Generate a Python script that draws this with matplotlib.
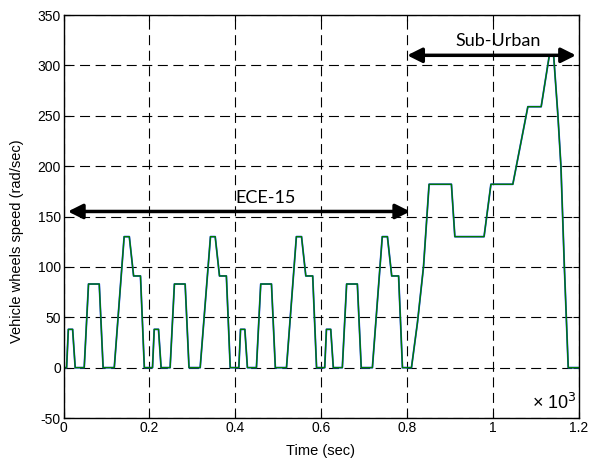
import numpy as np
import matplotlib
matplotlib.use('Agg')
import matplotlib.pyplot as plt

plt.rcParams['axes.unicode_minus'] = False

# drive cycle: time (s) and wheel speed (rad/sec)
ece1_t = [0, 7, 11, 21, 27, 48, 58, 83, 92, 118, 141, 153, 163, 179, 188]
ece1_v = [0, 0, 38, 38, 0, 0, 83, 83, 0, 0, 130, 130, 91, 91, 0]
ece2_t = [207, 211, 221, 227, 248, 258, 283, 292, 318, 342, 353, 363, 379, 388]
ece2_v = [0, 38, 38, 0, 0, 83, 83, 0, 0, 130, 130, 91, 91, 0]
ece3_t = [408, 412, 422, 428, 449, 459, 484, 493, 519, 542, 554, 564, 580, 589]
ece3_v = [0, 38, 38, 0, 0, 83, 83, 0, 0, 130, 130, 91, 91, 0]
ece4_t = [608, 612, 622, 628, 649, 659, 684, 693, 719, 742, 754, 764, 780, 789]
ece4_v = [0, 38, 38, 0, 0, 83, 83, 0, 0, 130, 130, 91, 91, 0]
eudc_t = [810, 824, 838, 851, 903, 911, 979, 995, 1046, 1081,
          1112, 1131, 1141, 1151, 1158, 1166, 1175, 1200]
eudc_v = [0, 45, 100, 182, 182, 130, 130, 182, 182, 259,
          259, 310, 310, 250, 200, 100, 0, 0]

t = np.array(ece1_t + ece2_t + ece3_t + ece4_t + eudc_t) / 1000.0
v = np.array(ece1_v + ece2_v + ece3_v + ece4_v + eudc_v)

W, H = 590, 459
fig = plt.figure(figsize=(5.9, 4.59), dpi=100)
ax = fig.add_axes([0.1078, 0.0893, 0.8735, 0.8780])

ax.plot(t, v, color='#2040ff', lw=1.3)
ax.plot(t, v, color='#007a00', lw=1.0)

ax.set_xlim(0, 1.2)
ax.set_ylim(-50, 350)
ax.set_xticks([0, 0.2, 0.4, 0.6, 0.8, 1.0, 1.2])
ax.set_xticklabels(['0', '0.2', '0.4', '0.6', '0.8', '1', '1.2'])
ax.set_yticks(np.arange(-50, 351, 50))
ax.grid(True, color='black', linestyle=(0, (9, 5)), lw=0.8)
ax.tick_params(direction='in', top=True, right=True, labelsize=10, length=4, pad=2)
for lab in ax.get_xticklabels() + ax.get_yticklabels():
    lab.set_family('Liberation Sans')
for s in ax.spines.values():
    s.set_linewidth(1.0)

# axis titles placed by pixel centre
fig.text(321 / W, 1 - 451.5 / H, 'Time (sec)', fontsize=10.5,
         family='Liberation Sans', ha='center', va='center')
fig.text(17 / W, 1 - 241.5 / H, 'Vehicle wheels speed (rad/sec)', fontsize=10.5,
         family='Liberation Sans', ha='center', va='center', rotation=90)

arrow = dict(arrowstyle='<|-|>', color='black', lw=2.5, mutation_scale=22,
             shrinkA=0, shrinkB=0)
ax.annotate('', xy=(0.807, 155), xytext=(0.010, 155), arrowprops=arrow)
ax.annotate('', xy=(1.193, 310), xytext=(0.800, 310), arrowprops=arrow)
ax.text(0.47, 160, 'ECE-15', fontsize=13, family='Lato', ha='center', va='bottom')
ax.text(1.011, 316, 'Sub-Urban', fontsize=13, family='Lato', ha='center', va='bottom')

ax.text(0.995, 0.012, '\u00d7 10$^{3}$', transform=ax.transAxes, ha='right',
        va='bottom', fontsize=13, family='Liberation Sans')

fig.savefig('out.png', dpi=100)
